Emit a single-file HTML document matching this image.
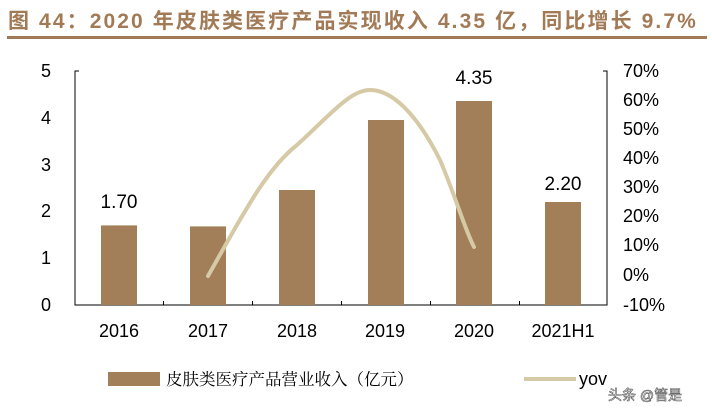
<!DOCTYPE html>
<html><head><meta charset="utf-8"><style>
body{margin:0;background:#fff;width:712px;height:413px;overflow:hidden}
svg{display:block}
</style></head><body>
<svg width="712" height="413" xmlns="http://www.w3.org/2000/svg" font-family="Liberation Sans, Noto Sans CJK SC, sans-serif">
<text x="8" y="28" font-size="21" font-weight="bold" fill="#A27A56" letter-spacing="2.1" font-family="Liberation Sans, Noto Sans CJK SC, sans-serif">图 44：2020 年皮肤类医疗产品实现收入 4.35 亿，同比增长 9.7%</text>
<rect x="7" y="36" width="700" height="3" fill="#A27A56"/>
<g stroke="#000" stroke-width="1" fill="none">
<path d="M79 71H75V305H607V71H603"/>
<path d="M163.5 305v-4M252.5 305v-4M341.5 305v-4M430.5 305v-4M519.5 305v-4"/>
</g>
<g fill="#A27E59">
<rect x="101" y="225.4" width="36" height="79.6"/>
<rect x="190" y="226.4" width="36" height="78.6"/>
<rect x="279" y="190" width="36" height="115"/>
<rect x="368" y="120" width="36" height="185"/>
<rect x="456" y="101" width="36" height="204"/>
<rect x="545" y="202" width="36" height="103"/>
</g>
<path d="M208 276 C240 220 265 170 297 145 C330 115 350 90 370 90 C395 90 420 120 440 160 C455 195 465 230 474 247" stroke="#D6C9A6" stroke-width="4" fill="none" stroke-linecap="round"/>
<g font-size="19" fill="#000" text-anchor="middle">
<text x="119" y="208">1.70</text>
<text x="474" y="84">4.35</text>
<text x="563" y="190">2.20</text>
</g>
<g font-size="18" fill="#000" text-anchor="end">
<text x="51" y="77">5</text><text x="51" y="124">4</text><text x="51" y="171">3</text>
<text x="51" y="217">2</text><text x="51" y="264">1</text><text x="51" y="311">0</text>
</g>
<g font-size="18" fill="#000" text-anchor="start">
<text x="623" y="77">70%</text><text x="623" y="106">60%</text><text x="623" y="135">50%</text>
<text x="623" y="164">40%</text><text x="623" y="193">30%</text><text x="623" y="222">20%</text>
<text x="623" y="251">10%</text><text x="623" y="281">0%</text><text x="623" y="311">-10%</text>
</g>
<g font-size="18" fill="#000" text-anchor="middle">
<text x="119" y="337">2016</text><text x="208" y="337">2017</text><text x="297" y="337">2018</text>
<text x="385" y="337">2019</text><text x="474" y="337">2020</text><text x="563" y="337">2021H1</text>
</g>
<rect x="108" y="372" width="52" height="14" fill="#A27E59"/>
<text x="166" y="385" font-size="16.5" fill="#000" font-family="Liberation Serif, Noto Serif CJK SC, serif">皮肤类医疗产品营业收入（亿元）</text>
<rect x="524" y="377" width="52" height="4" fill="#D6C9A6"/>
<text x="579" y="385" font-size="18" fill="#000">yov</text>
<text x="608" y="400" font-size="14" fill="#fff" stroke="#555" stroke-width="0.6">头条 @管是</text>
</svg>
</body></html>
